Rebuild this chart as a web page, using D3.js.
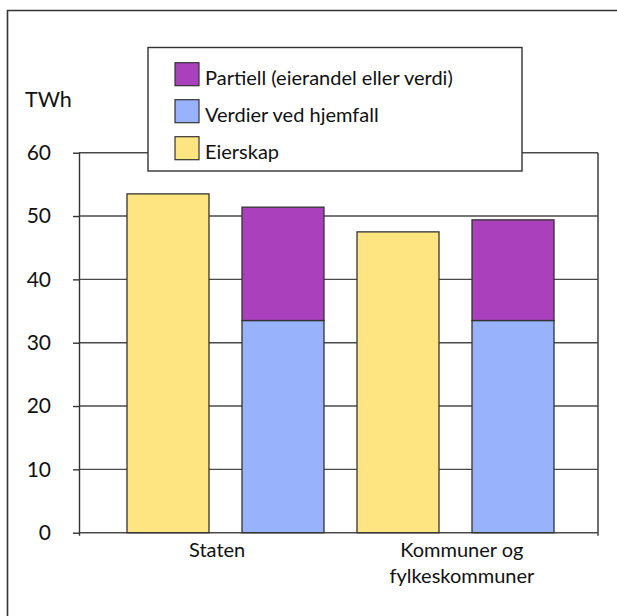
<!DOCTYPE html>
<html>
<head>
<meta charset="utf-8">
<script src="https://cdn.jsdelivr.net/npm/d3@7/dist/d3.min.js"></script>
<style>
  html, body { margin: 0; padding: 0; background: #fff; }
  svg { display: block; }
  text { font-family: Lato, "Open Sans", sans-serif; fill: #111; }
</style>
</head>
<body>
<svg id="chart" width="617" height="616"></svg>
<script>
// Categories and values (TWh)
const categories = ["Staten", "Kommuner og fylkeskommuner"];
const categoryLines = [["Staten"], ["Kommuner og", "fylkeskommuner"]];
const eierskap = [53.5, 47.5];
const hjemfall = [33.5, 33.5];
const partiell = [17.9, 15.9];
const yTicks = [0, 10, 20, 30, 40, 50, 60];
const unitLabel = "TWh";
const legendNames = ["Partiell (eierandel eller verdi)", "Verdier ved hjemfall", "Eierskap"];

const colors = {
  eierskap: "#fee581",
  hjemfall: "#99b2fc",
  partiell: "#aa40bb"
};

const svg = d3.select("#chart");

// Outer frame (open to the right and bottom)
svg.append("path")
  .attr("d", "M7.5,616 L7.5,10.5 L617,10.5")
  .attr("fill", "none")
  .attr("stroke", "#333")
  .attr("stroke-width", 1.6);

const plot = { left: 79, right: 598, top: 152.7, bottom: 532.7 };

const y = d3.scaleLinear().domain([0, 60]).range([plot.bottom, plot.top]);

// Category slots across the whole plot, used to place the axis labels
const xCat = d3.scaleBand().domain(categories).range([plot.left, plot.right]);

const x0 = d3.scaleBand()
  .domain(categories)
  .range([plot.left + 48, plot.right - 44])
  .paddingInner(0.1435)
  .paddingOuter(0);

const x1 = d3.scaleBand()
  .domain(["eierskap", "stack"])
  .range([0, x0.bandwidth()])
  .paddingInner(0.287)
  .paddingOuter(0);

// Grid lines
svg.append("g")
  .selectAll("line")
  .data(yTicks)
  .join("line")
  .attr("x1", plot.left)
  .attr("x2", plot.right)
  .attr("y1", d => y(d))
  .attr("y2", d => y(d))
  .attr("stroke", "#4a4a4a")
  .attr("stroke-width", 1.4);

// Right border of plot area
svg.append("line")
  .attr("x1", plot.right).attr("x2", plot.right)
  .attr("y1", plot.top).attr("y2", plot.bottom + 3)
  .attr("stroke", "#4a4a4a").attr("stroke-width", 1.6);

// Y axis
const yAxis = d3.axisLeft(y)
  .tickValues(yTicks)
  .tickSize(6)
  .tickPadding(22)
  .tickFormat(d3.format("d"));

const gy = svg.append("g")
  .attr("transform", `translate(${plot.left},0)`)
  .call(yAxis);
gy.select(".domain")
  .attr("d", `M0.5,${plot.top}V${plot.bottom + 3}`)
  .attr("stroke", "#333").attr("stroke-width", 1.4);
gy.selectAll(".tick line").attr("stroke", "#333").attr("stroke-width", 1.4);
gy.selectAll(".tick text")
  .attr("fill", "#111")
  .style("font-family", "Lato, sans-serif")
  .style("font-size", "21px");

// Unit label
svg.append("text")
  .attr("x", 25)
  .attr("y", 107)
  .style("font-size", "21.5px")
  .text(unitLabel);

// Bars
const barStroke = "#333";
const groups = svg.append("g")
  .selectAll("g")
  .data(categories)
  .join("g")
  .attr("transform", d => `translate(${x0(d)},0)`);

groups.append("rect")
  .attr("x", x1("eierskap"))
  .attr("width", x1.bandwidth())
  .attr("y", (d, i) => y(eierskap[i]))
  .attr("height", (d, i) => y(0) - y(eierskap[i]))
  .attr("fill", colors.eierskap)
  .attr("stroke", barStroke)
  .attr("stroke-width", 1.3);

const stackData = categories.map((c, i) => ({ hjemfall: hjemfall[i], partiell: partiell[i] }));
const stacked = d3.stack().keys(["hjemfall", "partiell"])(stackData);

stacked.forEach(layer => {
  groups.append("rect")
    .attr("x", x1("stack"))
    .attr("width", x1.bandwidth())
    .attr("y", (d, i) => y(layer[i][1]))
    .attr("height", (d, i) => y(layer[i][0]) - y(layer[i][1]))
    .attr("fill", colors[layer.key])
    .attr("stroke", barStroke)
    .attr("stroke-width", 1.3);
});

// Category labels, centred between the slot centre and the bar pair centre
const labelX = c => ((xCat(c) + xCat.bandwidth() / 2) + (x0(c) + x0.bandwidth() / 2)) / 2;
const labels = svg.append("g")
  .selectAll("text")
  .data(categories)
  .join("text")
  .attr("text-anchor", "middle")
  .style("font-size", "20px")
  .attr("y", 557);
labels.each(function (c, i) {
  const t = d3.select(this);
  categoryLines[i].forEach((line, k) => {
    t.append("tspan")
      .attr("x", labelX(c))
      .attr("dy", k === 0 ? 0 : 25.5)
      .text(line);
  });
});

// Legend
const legend = svg.append("g");
legend.append("rect")
  .attr("x", 148).attr("y", 47.5)
  .attr("width", 374).attr("height", 123.5)
  .attr("fill", "#fff")
  .attr("stroke", "#333")
  .attr("stroke-width", 1.4);

const legendColors = [colors.partiell, colors.hjemfall, colors.eierskap];
const items = legend.selectAll("g.item")
  .data(legendNames)
  .join("g")
  .attr("class", "item")
  .attr("transform", (d, i) => `translate(175,${62.7 + i * 37})`);

items.append("rect")
  .attr("width", 24).attr("height", 23)
  .attr("fill", (d, i) => legendColors[i])
  .attr("stroke", "#333")
  .attr("stroke-width", 1.2);

items.append("text")
  .attr("x", 30)
  .attr("y", 22.5)
  .style("font-size", "20px")
  .text(d => d);
</script>
</body>
</html>
